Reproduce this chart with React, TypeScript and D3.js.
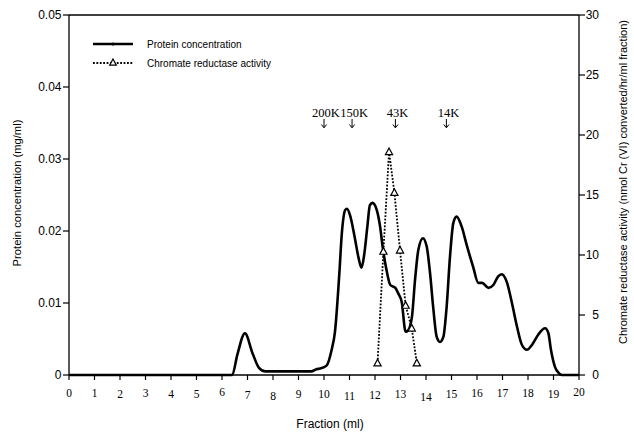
import React from "react";
import * as d3 from "d3";

const proteinFraction = [0, 6.4, 6.6, 6.9, 7.2, 7.45, 7.7, 8.0, 9.5, 9.7, 9.84, 10.1, 10.3, 10.43, 10.6, 10.7, 10.83, 10.9, 11.02, 11.2, 11.36, 11.47, 11.58, 11.7, 11.8, 11.9, 12.07, 12.2, 12.3, 12.45, 12.6, 12.8, 12.9, 13.05, 13.2, 13.3, 13.45, 13.57, 13.7, 13.88, 14.03, 14.16, 14.28, 14.42, 14.55, 14.68, 14.81, 14.94, 15.07, 15.2, 15.4, 15.6, 15.85, 16.05, 16.2, 16.45, 16.64, 16.83, 16.97, 17.17, 17.37, 17.57, 17.76, 17.96, 18.16, 18.4, 18.67, 18.8, 18.9, 19.06, 19.2, 19.33, 20];
const proteinConc = [0, 0, 0.0028, 0.0058, 0.003, 0.001, 0.0005, 0.0005, 0.0005, 0.0008, 0.0009, 0.0013, 0.0035, 0.006, 0.014, 0.0197, 0.0229, 0.0231, 0.0222, 0.0192, 0.0162, 0.0149, 0.0168, 0.0206, 0.0236, 0.0239, 0.0229, 0.0206, 0.0178, 0.0146, 0.0125, 0.0121, 0.0114, 0.0101, 0.006, 0.0062, 0.0081, 0.0132, 0.0174, 0.019, 0.0178, 0.0141, 0.0095, 0.0053, 0.0046, 0.0053, 0.0095, 0.0164, 0.0211, 0.022, 0.0206, 0.018, 0.015, 0.0128, 0.0128, 0.0121, 0.0125, 0.0137, 0.014, 0.0129, 0.01, 0.0067, 0.0042, 0.0035, 0.0042, 0.0056, 0.0065, 0.0058, 0.0035, 0.0011, 0.0003, 0, 0];

const activityFraction = [12.1, 12.33, 12.55, 12.76, 12.98, 13.2, 13.44, 13.64];
const activityValue = [1.0, 10.3, 18.6, 15.2, 10.4, 5.8, 3.9, 1.0];

const xTicks = d3.range(0, 21);
const leftTicks = [0, 0.01, 0.02, 0.03, 0.04, 0.05];
const leftTickLabels = ["0", "0.01", "0.02", "0.03", "0.04", "0.05"];
const rightTicks = [0, 5, 10, 15, 20, 25, 30];

const mwLabels = ["200K", "150K", "43K", "14K"];
const mwFraction = [10.0, 11.1, 12.8, 14.8];

const legendLabels = ["Protein concentration", "Chromate reductase activity"];

// style only: slight vertical jitter of the typeset x tick labels
const xLabelJitter = [0, 0, 0.7, 0, 1, 1, -1, 1.7, 2.7, 1, 1.4, 3.4, 2, 1, 4, 1, 0, 0, 0, 1, -0.6];

const W = 634, H = 435;
const L = 69, R = 579, T = 15, B = 375;
const sans = "'Liberation Sans', Arial, sans-serif";
const serif = "'Liberation Serif', 'Times New Roman', serif";

export default function App() {
  const x = d3.scaleLinear().domain([0, 20]).range([L, R]);
  const yL = d3.scaleLinear().domain([0, 0.05]).range([B, T]);
  const yR = d3.scaleLinear().domain([0, 30]).range([B, T]);

  const protein = proteinFraction.map((f, i) => [f, proteinConc[i]] as [number, number]);
  const activity = activityFraction.map((f, i) => [f, activityValue[i]] as [number, number]);

  const proteinLine = d3.line<[number, number]>()
    .x(d => x(d[0])).y(d => yL(d[1])).curve(d3.curveMonotoneX);
  const activityLine = d3.line<[number, number]>()
    .x(d => x(d[0])).y(d => yR(d[1]));

  const tri = (cx: number, cy: number, s = 4) =>
    `M${cx},${cy - s}L${cx + s * 0.95},${cy + s * 0.75}L${cx - s * 0.95},${cy + s * 0.75}Z`;

  return (
    <svg width={W} height={H} style={{ position: "absolute", left: 0, top: 0, background: "#fff" }}>
      <rect x={0} y={0} width={W} height={H} fill="#fff" />
      {/* frame */}
      <line x1={L} x2={R} y1={T} y2={T} stroke="#000" strokeWidth={1.3} />
      <line x1={L} x2={L} y1={T} y2={B} stroke="#000" strokeWidth={1.3} />
      <line x1={R} x2={R} y1={T} y2={B} stroke="#000" strokeWidth={1.3} />
      <line x1={L} x2={R} y1={B} y2={B} stroke="#000" strokeWidth={1.3} />

      {/* x ticks */}
      {xTicks.map((t, i) => (
        <g key={"xt" + t}>
          <line x1={x(t)} x2={x(t)} y1={B} y2={B + 5} stroke="#000" strokeWidth={1.2} />
          <text x={x(t)} y={B + 22 + xLabelJitter[i]} textAnchor="middle" fontFamily={serif} fontSize={11.5} fill="#000">{t}</text>
        </g>
      ))}

      {/* left ticks */}
      {leftTicks.map((t, i) => (
        <g key={"yl" + i}>
          <line x1={L - 6} x2={L} y1={yL(t)} y2={yL(t)} stroke="#000" strokeWidth={1.2} />
          <text x={L - 7.5} y={yL(t)} dy="0.35em" textAnchor="end" fontFamily={sans} fontSize={12} fill="#000">{leftTickLabels[i]}</text>
        </g>
      ))}

      {/* right ticks */}
      {rightTicks.map((t, i) => (
        <g key={"yr" + i}>
          <line x1={R} x2={R + 6} y1={yR(t)} y2={yR(t)} stroke="#000" strokeWidth={1.2} />
          <text x={R + 20} y={yR(t)} dy="0.35em" textAnchor="end" fontFamily={sans} fontSize={12} fill="#000">{t}</text>
        </g>
      ))}

      {/* axis titles */}
      <text transform={`translate(21,193) rotate(-90)`} textAnchor="middle" fontFamily={sans} fontSize={11.2} fill="#000">Protein concentration (mg/ml)</text>
      <text transform={`translate(627,182) rotate(-90)`} textAnchor="middle" fontFamily={sans} fontSize={11} fill="#000">Chromate reductase activity (nmol Cr (VI) converted/hr/ml fraction)</text>
      <text x={330} y={428} textAnchor="middle" fontFamily={sans} fontSize={12} fill="#000">Fraction (ml)</text>

      {/* legend */}
      <line x1={93} x2={133} y1={44} y2={44} stroke="#000" strokeWidth={2.4} />
      <circle cx={113} cy={44} r={1.6} fill="#000" />
      <text x={147} y={44} dy="0.35em" fontFamily={sans} fontSize={10} fill="#000">{legendLabels[0]}</text>
      <line x1={93} x2={133} y1={63} y2={63} stroke="#000" strokeWidth={1.8} strokeDasharray="1.8,1.6" />
      <path d={tri(113, 62.5, 3.5)} fill="#fff" stroke="#000" strokeWidth={1.2} />
      <text x={147} y={63} dy="0.35em" fontFamily={sans} fontSize={10} fill="#000">{legendLabels[1]}</text>

      {/* MW markers */}
      {mwLabels.map((lab, i) => {
        const cx = x(mwFraction[i]);
        return (
          <g key={lab}>
            <text x={cx + 2} y={117} textAnchor="middle" fontFamily={serif} fontSize={12.5} fill="#000">{lab}</text>
            <line x1={cx} x2={cx} y1={119} y2={127.5} stroke="#000" strokeWidth={1} />
            <path d={`M${cx - 2.6},${124.5}L${cx},${127.8}L${cx + 2.6},${124.5}`} fill="none" stroke="#000" strokeWidth={1} />
          </g>
        );
      })}

      {/* protein curve */}
      <path d={proteinLine(protein) || ""} fill="none" stroke="#000" strokeWidth={2.6} strokeLinejoin="round" />

      {/* activity dotted */}
      <path d={activityLine(activity) || ""} fill="none" stroke="#000" strokeWidth={1.8} strokeDasharray="1.8,1.6" />
      {activity.map((d, i) => (
        <path key={"a" + i} d={tri(x(d[0]), yR(d[1]), 3.8)} fill="#fff" stroke="#000" strokeWidth={1.2} />
      ))}
    </svg>
  );
}
